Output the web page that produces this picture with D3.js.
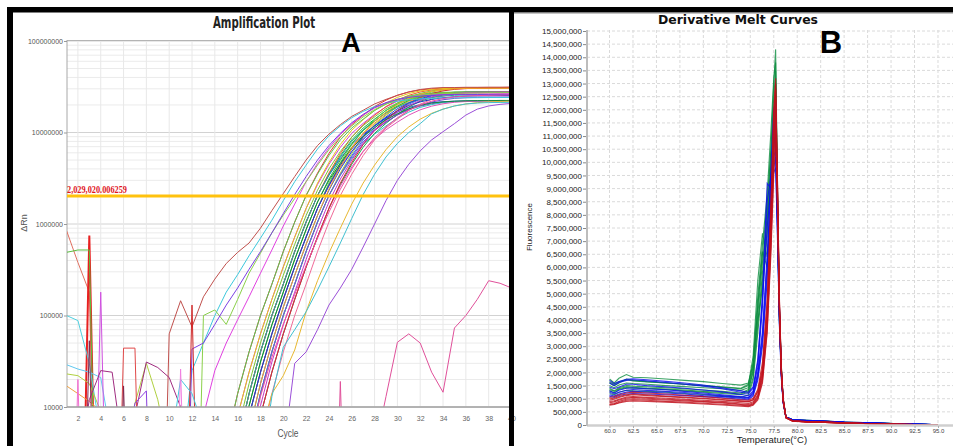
<!DOCTYPE html>
<html>
<head>
<meta charset="utf-8">
<script src="https://cdn.jsdelivr.net/npm/d3@7"></script>
<style>
body { margin: 0; background: #fff; }
svg { display: block; font-family: "Liberation Sans", Arial, sans-serif; }
</style>
</head>
<body>
<svg id="chart" width="953" height="446"></svg>
<script>
// ---------- data: amplification plot (panel A) ----------
const cycles = [1,2,3,4,5,6,7,8,9,10,11,12,13,14,15,16,17,18,19,20,
                21,22,23,24,25,26,27,28,29,30,31,32,33,34,35,36,37,38,39,40];
const threshold = 2029020.006259;
const decadeTicks = [1e4, 1e5, 1e6, 1e7, 1e8];

// one row per well, delta Rn per cycle (values under 10000 sit below the axis)
const ampValues = [
  // main bundle
  [2e3,2e3,2e3,2e3,2e3, 2e3,2e3,2e3,2e3,2e3, 2e3,2e3,2e3,2e3, 4e3,1.4e4,4e4,1e5,2.2e5,5e5,1.05e6,2.05e6,3.6e6,5.9e6,8.9e6,1.22e7,1.54e7,1.92e7,2.26e7,2.55e7,2.77e7,2.92e7,3.0e7,3.05e7, 3.07e7,3.08e7,3.09e7,3.1e7,3.1e7,3.11e7],
  [2e3,2e3,2e3,2e3,2e3, 2e3,2e3,2e3,2e3,2e3, 2e3,2e3,2e3,2e3, 2e3,8e3,2.4e4,6.3e4,1.5e5,3.4e5,7.2e5,1.48e6,2.7e6,4.5e6,6.9e6,9.8e6,1.26e7,1.58e7,1.9e7,2.2e7,2.4e7,2.57e7,2.66e7,2.72e7,2.75e7, 2.76e7,2.77e7,2.78e7,2.79e7,2.8e7],
  [2e3,2e3,2e3,2e3,2e3, 2e3,2e3,2e3,2e3,2e3, 2e3,2e3,2e3,2e3,2e3, 4e3,1.4e4,4e4,1e5,2.2e5,5e5,1.05e6,2.05e6,3.5e6,5.6e6,8.3e6,1.12e7,1.4e7,1.74e7,2.04e7,2.3e7,2.5e7,2.63e7,2.7e7,2.75e7, 2.76e7,2.77e7,2.78e7,2.79e7,2.8e7],
  [2e3,2e3,2e3,2e3,2e3, 2e3,2e3,2e3,2e3,2e3, 2e3,2e3,2e3,2e3,2e3, 4e3,1.4e4,4e4,1e5,2.2e5,5e5,1.05e6,2.05e6,3.4e6,5.2e6,7.4e6,9.6e6,1.18e7,1.43e7,1.67e7,1.88e7,2.02e7,2.12e7,2.17e7,2.2e7, 2.21e7,2.22e7,2.22e7,2.23e7,2.23e7],
  [2e3,2e3,2e3,2e3,2e3, 2e3,2e3,2e3,2e3,2e3, 2e3,2e3,2e3,2e3,2e3, 2e3,8e3,2.4e4,6.3e4,1.5e5,3.4e5,7.2e5,1.48e6,2.7e6,4.5e6,6.9e6,9.8e6,1.26e7,1.58e7,1.9e7,2.2e7,2.4e7,2.57e7,2.66e7,2.72e7,2.75e7, 2.76e7,2.77e7,2.78e7,2.79e7],
  [2e3,2e3,2e3,2e3,2e3, 2e3,2e3,2e3,2e3,2e3, 2e3,2e3,2e3,2e3,2e3, 2e3,8e3,2.4e4,6.3e4,1.5e5,3.4e5,7.2e5,1.48e6,2.8e6,4.7e6,7.4e6,1.06e7,1.38e7,1.74e7,2.1e7,2.42e7,2.67e7,2.85e7,2.96e7,3.02e7,3.05e7, 3.06e7,3.07e7,3.07e7,3.08e7],
  [2e3,2e3,2e3,2e3,2e3, 2e3,2e3,2e3,2e3,2e3, 2e3,2e3,2e3,2e3,2e3, 2e3,8e3,2.4e4,6.3e4,1.5e5,3.4e5,7.2e5,1.48e6,2.6e6,4.2e6,6.2e6,8.5e6,1.07e7,1.3e7,1.55e7,1.77e7,1.94e7,2.06e7,2.14e7,2.18e7,2.2e7, 2.21e7,2.22e7,2.22e7,2.23e7],
  [2e3,2e3,2e3,2e3,2e3, 2e3,2e3,2e3,2e3,2e3, 2e3,2e3,2e3,2e3,2e3, 2e3, 4e3,1.4e4,4e4,1e5,2.2e5,5e5,1.05e6,2.05e6,3.5e6,5.6e6,8.3e6,1.12e7,1.4e7,1.74e7,2.04e7,2.3e7,2.5e7,2.63e7,2.7e7,2.75e7, 2.76e7,2.77e7,2.78e7,2.79e7],
  [2e3,2e3,2e3,2e3,2e3, 2e3,2e3,2e3,2e3,2e3, 2e3,2e3,2e3,2e3,2e3, 2e3, 4e3,1.4e4,4e4,1e5,2.2e5,5e5,1.05e6,2.05e6,3.6e6,5.9e6,8.9e6,1.22e7,1.54e7,1.92e7,2.26e7,2.55e7,2.77e7,2.92e7,3.0e7,3.05e7, 3.07e7,3.08e7,3.09e7,3.1e7],
  [2e3,2e3,2e3,2e3,2e3, 2e3,2e3,2e3,2e3,2e3, 2e3,2e3,2e3,2e3,2e3, 2e3, 4e3,1.4e4,4e4,1e5,2.2e5,5e5,1.05e6,2.05e6,3.4e6,5.2e6,7.4e6,9.6e6,1.18e7,1.43e7,1.67e7,1.88e7,2.02e7,2.12e7,2.17e7,2.2e7, 2.21e7,2.22e7,2.22e7,2.23e7],
  [2e3,2e3,2e3,2e3,2e3, 2e3,2e3,2e3,2e3,2e3, 2e3,2e3,2e3,2e3,2e3, 2e3, 2e3,8e3,2.4e4,6.3e4,1.5e5,3.4e5,7.2e5,1.48e6,2.7e6,4.5e6,6.9e6,9.8e6,1.26e7,1.58e7,1.9e7,2.2e7,2.4e7,2.57e7,2.66e7,2.72e7,2.75e7, 2.76e7,2.77e7,2.78e7],
  [2e3,2e3,2e3,2e3,2e3, 2e3,2e3,2e3,2e3,2e3, 2e3,2e3,2e3,2e3,2e3, 2e3, 2e3,8e3,2.4e4,6.3e4,1.5e5,3.4e5,7.2e5,1.48e6,2.6e6,4.2e6,6.2e6,8.5e6,1.07e7,1.3e7,1.55e7,1.77e7,1.94e7,2.06e7,2.14e7,2.18e7,2.2e7, 2.21e7,2.22e7,2.22e7],
  [2e3,2e3,2e3,2e3,2e3, 2e3,2e3,2e3,2e3,2e3, 2e3,2e3,2e3,2e3,2e3, 4e3,1.4e4,4e4,1e5,2.2e5,5e5,1.05e6,2.05e6,3.6e6,5.9e6,8.9e6,1.22e7,1.54e7,1.92e7,2.26e7,2.55e7,2.77e7,2.92e7,3.0e7,3.05e7, 3.07e7,3.08e7,3.09e7,3.1e7,3.1e7],
  [2e3,2e3,2e3,2e3,2e3, 2e3,2e3,2e3,2e3,2e3, 2e3,2e3,2e3,2e3, 2e3,8e3,2.4e4,6.3e4,1.5e5,3.4e5,7.2e5,1.48e6,2.8e6,4.7e6,7.4e6,1.06e7,1.38e7,1.74e7,2.1e7,2.42e7,2.67e7,2.85e7,2.96e7,3.02e7,3.05e7, 3.06e7,3.07e7,3.07e7,3.08e7,3.08e7],
  [2e3,2e3,2e3,2e3,2e3, 2e3,2e3,2e3,2e3,2e3, 2e3,2e3,2e3,2e3,2e3, 2e3, 4e3,1.4e4,4e4,1e5,2.2e5,5e5,1.05e6,2.05e6,3.45e6,5.4e6,7.9e6,1.05e7,1.3e7,1.56e7,1.8e7,2.0e7,2.15e7,2.28e7,2.36e7,2.4e7, 2.42e7,2.43e7,2.44e7,2.45e7],
  [2e3,2e3,2e3,2e3,2e3, 2e3,2e3,2e3,2e3,2e3, 2e3,2e3,2e3,2e3,2e3, 2e3,2e3, 4e3,1.4e4,4e4,1e5,2.2e5,5e5,1.05e6,2.05e6,3.5e6,5.6e6,8.3e6,1.12e7,1.4e7,1.74e7,2.04e7,2.3e7,2.5e7,2.63e7,2.7e7,2.75e7, 2.76e7,2.77e7,2.78e7],
  [2e3,2e3,2e3,2e3,2e3, 2e3,2e3,2e3,2e3,2e3, 2e3,2e3,2e3,2e3,2e3, 2e3,8e3,2.4e4,6.3e4,1.5e5,3.4e5,7.2e5,1.48e6,2.65e6,4.4e6,6.6e6,9.3e6,1.18e7,1.45e7,1.72e7,1.98e7,2.16e7,2.3e7,2.4e7,2.46e7,2.5e7, 2.51e7,2.52e7,2.53e7,2.54e7],
  [2e3,2e3,2e3,2e3,2e3, 2e3,2e3,2e3,2e3,2e3, 2e3,2e3,2e3,2e3, 4e3,1.4e4,4e4,1e5,2.2e5,5e5,1.05e6,2.05e6,3.5e6,5.6e6,8.3e6,1.12e7,1.4e7,1.74e7,2.04e7,2.3e7,2.5e7,2.63e7,2.7e7,2.75e7, 2.76e7,2.77e7,2.78e7,2.79e7,2.8e7,2.8e7],
  [2e3,2e3,2e3,2e3,2e3, 2e3,2e3,2e3,2e3,2e3, 2e3,2e3,2e3,2e3,2e3, 2e3, 2e3,8e3,2.4e4,6.3e4,1.5e5,3.4e5,7.2e5,1.48e6,2.8e6,4.7e6,7.4e6,1.06e7,1.38e7,1.74e7,2.1e7,2.42e7,2.67e7,2.85e7,2.96e7,3.02e7,3.05e7, 3.06e7,3.07e7,3.07e7],
  [2e3,2e3,2e3,2e3,2e3, 2e3,2e3,2e3,2e3,2e3, 2e3,2e3,2e3,2e3,2e3, 4e3,1.4e4,4e4,1e5,2.2e5,5e5,1.05e6,2.05e6,3.45e6,5.4e6,8e6,1.07e7,1.33e7,1.63e7,1.9e7,2.13e7,2.3e7,2.42e7,2.5e7,2.55e7, 2.57e7,2.58e7,2.59e7,2.6e7,2.6e7],
  [2e3,2e3,2e3,2e3,2e3, 2e3,2e3,2e3,2e3,2e3, 2e3,2e3,2e3,2e3,2e3, 3.4e3,1.03e4,3.1e4,7.9e4,1.8e5,4.1e5,8.7e5,1.74e6,3.1e6,5e6,7.6e6,1.05e7,1.33e7,1.66e7,1.95e7,2.24e7,2.45e7,2.6e7,2.65e7,2.74e7,2.75e7, 2.76e7,2.77e7,2.78e7,2.79e7],
  [2e3,2e3,2e3,2e3,2e3, 2e3,2e3,2e3,2e3,2e3, 2e3,2e3,2e3,2e3,2e3, 2.4e3,5.5e3,1.8e4,5e4,1.23e5,2.75e5,6e5,1.24e6,2.34e6,4e6,6.2e6,8.9e6,1.19e7,1.48e7,1.82e7,2.1e7,2.34e7,2.54e7,2.65e7,2.71e7,2.75e7, 2.76e7,2.77e7,2.78e7,2.78e7],
  [2e3,2e3,2e3,2e3,2e3, 2e3,2e3,2e3,2e3,2e3, 2e3,2e3,2e3,2e3, 2.4e3,5.5e3,1.8e4,5e4,1.23e5,2.75e5,6e5,1.24e6,2.34e6,4e6,6.2e6,8.9e6,1.19e7,1.48e7,1.82e7,2.1e7,2.34e7,2.54e7,2.65e7,2.71e7,2.75e7, 2.76e7,2.77e7,2.78e7,2.79e7,2.8e7],
  [2e3,2e3,2e3,2e3,2e3, 2e3,2e3,2e3,2e3,2e3, 2e3,2e3,2e3,2e3,2e3, 2e3, 3.4e3,1.03e4,3.1e4,7.9e4,1.8e5,4.1e5,8.7e5,1.74e6,3.1e6,5e6,7.6e6,1.05e7,1.33e7,1.66e7,1.95e7,2.24e7,2.45e7,2.6e7,2.65e7,2.74e7,2.75e7, 2.76e7,2.77e7,2.78e7],
  [2e3,2e3,2e3,2e3,2e3, 2e3,2e3,2e3,2e3,2e3, 2e3,2e3,2e3,2e3,2e3, 3.4e3,1.03e4,3.1e4,7.9e4,1.8e5,4.1e5,8.7e5,1.74e6,3.0e6,4.6e6,6.8e6,9.0e6,1.13e7,1.38e7,1.6e7,1.82e7,1.98e7,2.1e7,2.16e7,2.2e7,2.22e7, 2.23e7,2.23e7,2.24e7,2.24e7],
  [2e3,2e3,2e3,2e3,2e3, 2e3,2e3,2e3,2e3,2e3, 2e3,2e3,2e3,2e3,2e3, 2.4e3,5.5e3,1.8e4,5e4,1.23e5,2.75e5,6e5,1.24e6,2.4e6,4.2e6,6.7e6,9.8e6,1.32e7,1.66e7,2.02e7,2.36e7,2.62e7,2.82e7,2.94e7,3.0e7,3.03e7, 3.04e7,3.05e7,3.05e7,3.06e7],
  // early and late wells
  [2e3,2e3,2e3,2e3,2e3, 2e3,2e3,2e3, 1, 6.3e4,1.45e5,7.5e4,1.6e5,2.5e5,3.7e5,4.9e5,6.2e5,9e5,1.4e6,2.15e6,3.3e6,5e6,7.2e6,9.6e6,1.22e7,1.5e7,1.75e7,2.05e7,2.3e7,2.55e7,2.78e7,2.95e7,3.05e7, 3.1e7,3.1e7,3.12e7,3.12e7,3.13e7,3.13e7,3.14e7],
  [2e3,2e3,2e3,2e3,2e3, 2e3,2e3,2e3,2e3,2e3, 2e3, 2.5e4,5e4,1e5,1.8e5,2.8e5,4.5e5,7e5,1.1e6,1.8e6,2.9e6,4.4e6,6.6e6,9.2e6,1.18e7,1.45e7,1.7e7,1.92e7,2.08e7,2.2e7,2.28e7,2.33e7, 2.36e7,2.38e7,2.39e7,2.4e7,2.4e7,2.41e7,2.41e7,2.42e7],
  [2e3,2e3,2e3,2e3,2e3, 2e3,2e3,2e3,2e3,2e3, 2e3,2e3, 8e3,2.5e4,5e4,9e4,1.6e5,2.9e5,5.2e5,9.5e5,1.65e6,2.9e6,4.6e6,6.8e6,9.5e6,1.25e7,1.55e7,1.85e7,2.1e7,2.3e7,2.45e7,2.55e7,2.6e7, 2.62e7,2.63e7,2.64e7,2.65e7,2.65e7,2.66e7,2.66e7],
  [2e3,2e3,2e3,2e3,2e3, 2e3,2e3,2e3,2e3,2e3, 2e3, 1, 1e5,1.15e5,8e4,1.5e5,2.9e5,4.8e5,8e5,1.25e6,1.9e6,2.9e6,4.4e6,6.5e6,9e6,1.18e7,1.48e7,1.78e7,2.05e7,2.28e7,2.45e7,2.55e7,2.62e7, 2.66e7,2.68e7,2.7e7,2.7e7,2.72e7,2.72e7,2.73e7],
  [2e3,2e3,2e3,2e3,2e3, 2e3,2e3,2e3,2e3,2e3, 1, 4.3e4,5e4,8e4,1.3e5,2e5,3.2e5,5e5,8e5,1.3e6,2.1e6,3.3e6,5e6,7.2e6,9.8e6,1.28e7,1.58e7,1.88e7,2.12e7,2.3e7,2.42e7,2.5e7,2.55e7,2.58e7, 2.6e7,2.6e7,2.6e7,2.6e7,2.6e7,2.6e7],
  [2e3,2e3,2e3,2e3,2e3, 2e3,2e3,2e3,2e3,2e3, 2e3,2e3,2e3,2e3,2e3, 2e3,2e3, 5e3,1.4e4,2.2e4,4.2e4,1.1e5,2.4e5,4.8e5,9e5,1.65e6,2.8e6,4.4e6,6.5e6,9e6,1.15e7,1.4e7,1.62e7,1.8e7,1.95e7,2.05e7,2.12e7,2.16e7,2.18e7,2.2e7],
  [2e3,2e3,2e3,2e3,2e3, 2e3,2e3,2e3,2e3,2e3, 2e3,2e3,2e3,2e3,2e3, 2e3,2e3,2e3, 1.3e4,4.5e4,7e4,1.1e5,1.9e5,3.4e5,6.2e5,1.15e6,2.1e6,3.5e6,5.4e6,7.6e6,1.0e7,1.25e7,1.6e7,1.8e7,1.95e7,2.05e7,2.1e7,2.12e7,2.13e7,2.14e7],
  [2e3,2e3,2e3,2e3,2e3, 2e3,2e3,2e3,2e3,2e3, 2e3,2e3,2e3,2e3,2e3, 2e3, 4e3,1.3e4,3.5e4,8e4,1.7e5,3.5e5,7e5,1.35e6,2.4e6,4e6,6.2e6,8.8e6,1.15e7,1.45e7,1.75e7,2.0e7,2.2e7,2.35e7,2.45e7,2.5e7,2.53e7,2.55e7,2.56e7,2.57e7],
  [2e3,2e3,2e3,2e3,2e3, 2e3,2e3,2e3,2e3,2e3, 2e3,2e3,2e3,2e3,2e3, 2e3,2e3,2e3,2e3, 3e3,3e4,4e4,7e4,1.3e5,2e5,3.2e5,5.6e5,1e6,1.8e6,3e6,4.5e6,6.3e6,8.3e6,1.02e7,1.25e7,1.55e7,1.8e7,1.95e7,2.03e7,2.08e7],
  [2e3,2e3,2e3,2e3,2e3, 2e3,2e3,2e3,2e3,2e3, 2e3,2e3,2e3,2e3,2e3, 2e3,2e3,2e3,2e3,2e3, 2e3,2e3,2e3, 1,1.9e4,1,1,3.3e3,1.3e4,5.1e4,6.3e4,5e4,2.4e4,1.45e4,7.3e4,1e5,1.5e5,2.4e5,2.25e5,2e5],
  // noisy wells at the start
  [8.5e5,3.8e5,1.8e5,1,2e3],
  [2e3,1,7.5e5,1,2e3],
  [4.9e5,5.2e5,5.2e5,1,2e3],
  [1e5,8.8e4,3e4,5e3,2e3],
  [2.9e4,2.6e4,2.4e4,2.1e4,4e3,2e3],
  [2.3e4,2.2e4,1.8e4,9e3,3e3,3e3,1.1e4,3e4,1.2e4,3e3],
  [1.7e4,1.4e4,1.15e4,9e3,3e3,2e3],
  [1,2e4,1,2e3],
  [2e3,2e3,1,1.8e5,1,2e3],
  [2e3,2e3,1.2e4,2.5e4,2.4e4,3e3,8e3,3.1e4,2.7e4,2.1e4,1e4,3e3],
  [2e3,2e3,2e3,2e3,1,4.4e4,4.4e4,1,2e3],
  [2e3,2e3,2e3,2e3,2e3,2e3,1.1e4,1.5e4,1,2e3],
  [2e3,1,5.3e4,1,1,1.7e4,1,2e3],
  [2e3,2e3,2e3,2e3,2e3,2e3,2e3,2e3,2e3,2e3,1,1.3e5,1,2e3],
  [2e3,2e3,2e3,2e3,2e3,2e3,2e3,2e3,2e3,3e3,2e4,1.4e4,6e3,2e3],
  [2e3,2e3,2e3,2e3,2e3,2e3,2e3,2e3,2e3,1,2.6e4,1,2e3]
];
const ampColors = [
  "#e3342f","#d23fd2","#22b14c","#2f50e0","#f28c28","#4cd04c","#8a3fd8","#3b6cf2","#9fd236","#2cc6c6",
  "#17a34a","#e052b8","#f25a26","#e6c619","#7548d6","#f06a98","#1c36c4","#58c858","#d42a2a","#27a89e",
  "#33bb33","#2846d8","#7cc43a","#c535c5","#128a3a","#f5a623",
  "#c0504d","#3cc8dc","#e040e0","#8ad04a","#7b3fe4","#e8b830","#40c0d0","#f050a0","#9b4fd8","#e0509a",
  "#e07060","#e82020","#5cc040","#50d0e0","#60c8f0","#b0d040","#f0a040","#f070d0","#d050e0","#a02c80",
  "#e04848","#8c40e0","#802850","#d02828","#40c8e0","#f080e0"
];

// ---------- data: derivative melt curves (panel B) ----------
const tempsC = [60,60.5,61,61.8,62.5,64,66,68,70,72,74,74.8,75.3,75.8,76.3,76.8,77.2,77.5,77.7,77.9,78.1,78.3,78.5,78.8,79.5,81,83,85,88,91,94,95];
const meltGreen = [
  [1.75e6,1.6e6,1.78e6,1.92e6,1.82e6,1.8e6,1.75e6,1.7e6,1.65e6,1.58e6,1.52e6,1.6e6,2.3e6,4.5e6,6.5e6,8.5e6,10.5e6,13e6,14.3e6,9e6,4.6e6,2.3e6,1.0e6,0.3e6,0.2e6,0.18e6,0.15e6,0.1e6,0.08e6,0.05e6,0.02e6,0],
  [1.6e6,1.5e6,1.6e6,1.75e6,1.7e6,1.65e6,1.6e6,1.55e6,1.5e6,1.45e6,1.4e6,1.55e6,2.6e6,5.5e6,7.3e6,6.4e6,8.0e6,10.5e6,11.5e6,7.6e6,4.0e6,2.0e6,0.9e6,0.3e6,0.2e6,0.17e6,0.14e6,0.1e6,0.07e6,0.05e6,0.02e6,0],
  [1.4e6,1.3e6,1.42e6,1.5e6,1.48e6,1.45e6,1.42e6,1.38e6,1.33e6,1.28e6,1.22e6,1.35e6,2.0e6,4.6e6,6.6e6,6.0e6,8.5e6,11.5e6,12.2e6,8.0e6,4.2e6,2.1e6,0.95e6,0.3e6,0.19e6,0.16e6,0.13e6,0.1e6,0.07e6,0.04e6,0.02e6,0],
  [1.3e6,1.22e6,1.35e6,1.42e6,1.4e6,1.38e6,1.35e6,1.3e6,1.25e6,1.2e6,1.15e6,1.25e6,1.8e6,3.8e6,5.8e6,8.0e6,10.5e6,12.5e6,13.5e6,8.6e6,4.4e6,2.2e6,0.95e6,0.28e6,0.18e6,0.16e6,0.13e6,0.09e6,0.07e6,0.04e6,0.02e6,0],
  [1.5e6,1.42e6,1.52e6,1.6e6,1.58e6,1.55e6,1.5e6,1.46e6,1.42e6,1.38e6,1.32e6,1.42e6,2.2e6,4.2e6,6.2e6,7.8e6,9.8e6,11.8e6,12.8e6,8.2e6,4.2e6,2.1e6,0.95e6,0.3e6,0.2e6,0.17e6,0.14e6,0.1e6,0.07e6,0.05e6,0.02e6,0],
  [1.2e6,1.15e6,1.25e6,1.32e6,1.3e6,1.28e6,1.25e6,1.2e6,1.16e6,1.1e6,1.05e6,1.15e6,1.7e6,3.5e6,5.5e6,7.2e6,9.5e6,11.2e6,12.0e6,7.8e6,4.0e6,2.0e6,0.9e6,0.28e6,0.18e6,0.15e6,0.12e6,0.09e6,0.06e6,0.04e6,0.02e6,0],
  [1.65e6,1.55e6,1.65e6,1.72e6,1.68e6,1.64e6,1.6e6,1.55e6,1.5e6,1.44e6,1.38e6,1.5e6,2.4e6,4.9e6,6.9e6,8.8e6,11.2e6,13.2e6,13.8e6,8.8e6,4.5e6,2.2e6,1.0e6,0.3e6,0.2e6,0.18e6,0.15e6,0.11e6,0.08e6,0.05e6,0.03e6,0],
  [1.35e6,1.28e6,1.38e6,1.45e6,1.44e6,1.4e6,1.37e6,1.33e6,1.28e6,1.24e6,1.18e6,1.3e6,2.1e6,4.0e6,5.2e6,7.5e6,10.0e6,12.0e6,13.0e6,8.3e6,4.3e6,2.1e6,0.95e6,0.3e6,0.19e6,0.16e6,0.13e6,0.1e6,0.07e6,0.04e6,0.02e6,0]
];
const meltBlue = [
  [1.6e6,1.5e6,1.62e6,1.7e6,1.72e6,1.68e6,1.62e6,1.55e6,1.48e6,1.38e6,1.25e6,1.2e6,1.4e6,2.2e6,4.5e6,8.5e6,9.5e6,10.2e6,10.5e6,7.6e6,4.2e6,2.0e6,0.9e6,0.3e6,0.2e6,0.17e6,0.14e6,0.1e6,0.07e6,0.05e6,0.02e6,0],
  [1.3e6,1.22e6,1.32e6,1.4e6,1.42e6,1.38e6,1.34e6,1.28e6,1.22e6,1.15e6,1.08e6,1.05e6,1.25e6,2.0e6,3.6e6,6.5e6,9.0e6,11.0e6,11.8e6,8.5e6,4.5e6,2.1e6,0.95e6,0.3e6,0.2e6,0.17e6,0.14e6,0.1e6,0.07e6,0.05e6,0.02e6,0],
  [1.15e6,1.1e6,1.18e6,1.25e6,1.28e6,1.25e6,1.22e6,1.18e6,1.12e6,1.08e6,1.02e6,1.0e6,1.15e6,1.8e6,3.2e6,5.8e6,8.2e6,9.8e6,10.2e6,7.3e6,3.9e6,1.9e6,0.85e6,0.28e6,0.18e6,0.15e6,0.13e6,0.09e6,0.06e6,0.04e6,0.02e6,0],
  [1.45e6,1.38e6,1.45e6,1.55e6,1.55e6,1.5e6,1.45e6,1.4e6,1.33e6,1.26e6,1.16e6,1.12e6,1.3e6,2.4e6,5.0e6,9.2e6,9.0e6,9.6e6,9.8e6,7.0e6,3.8e6,1.8e6,0.85e6,0.28e6,0.19e6,0.16e6,0.13e6,0.1e6,0.07e6,0.04e6,0.02e6,0],
  [1.25e6,1.18e6,1.25e6,1.32e6,1.35e6,1.32e6,1.28e6,1.24e6,1.18e6,1.12e6,1.06e6,1.04e6,1.2e6,1.9e6,3.4e6,6.2e6,9.8e6,12.0e6,12.3e6,8.8e6,4.6e6,2.2e6,1.0e6,0.3e6,0.2e6,0.17e6,0.14e6,0.1e6,0.07e6,0.05e6,0.03e6,0],
  [1.7e6,1.58e6,1.66e6,1.74e6,1.76e6,1.72e6,1.66e6,1.6e6,1.52e6,1.42e6,1.3e6,1.25e6,1.45e6,2.5e6,4.8e6,7.5e6,9.2e6,10.8e6,11.0e6,7.9e6,4.3e6,2.0e6,0.9e6,0.3e6,0.2e6,0.18e6,0.15e6,0.11e6,0.08e6,0.05e6,0.03e6,0],
  [1.1e6,1.05e6,1.12e6,1.18e6,1.2e6,1.18e6,1.15e6,1.12e6,1.08e6,1.04e6,0.98e6,0.96e6,1.1e6,1.7e6,3.0e6,5.5e6,8.8e6,10.5e6,11.2e6,8.1e6,4.3e6,2.0e6,0.9e6,0.3e6,0.19e6,0.16e6,0.13e6,0.1e6,0.07e6,0.04e6,0.02e6,0]
];
const meltRed = [
  [0.8e6,0.82e6,0.9e6,0.98e6,1.0e6,0.98e6,0.95e6,0.92e6,0.88e6,0.84e6,0.78e6,0.75e6,0.8e6,1.05e6,1.8e6,3.8e6,7.0e6,10.5e6,12.0e6,8.6e6,4.5e6,2.1e6,0.95e6,0.28e6,0.15e6,0.12e6,0.1e6,0.08e6,0.05e6,0.03e6,0.01e6,0],
  [0.95e6,0.98e6,1.05e6,1.12e6,1.15e6,1.12e6,1.08e6,1.04e6,1.0e6,0.95e6,0.9e6,0.88e6,0.95e6,1.25e6,2.1e6,4.4e6,8.0e6,11.5e6,13.0e6,9.2e6,4.8e6,2.2e6,1.0e6,0.3e6,0.16e6,0.13e6,0.11e6,0.08e6,0.05e6,0.03e6,0.01e6,0],
  [0.75e6,0.78e6,0.84e6,0.9e6,0.92e6,0.9e6,0.87e6,0.84e6,0.8e6,0.76e6,0.72e6,0.7e6,0.75e6,0.95e6,1.6e6,3.5e6,6.5e6,9.5e6,11.0e6,7.9e6,4.2e6,2.0e6,0.9e6,0.26e6,0.14e6,0.12e6,0.1e6,0.07e6,0.05e6,0.03e6,0.01e6,0],
  [1.05e6,1.08e6,1.15e6,1.22e6,1.25e6,1.22e6,1.18e6,1.13e6,1.08e6,1.02e6,0.96e6,0.94e6,1.02e6,1.35e6,2.4e6,4.8e6,8.5e6,11.8e6,12.8e6,9.0e6,4.7e6,2.2e6,1.0e6,0.3e6,0.16e6,0.13e6,0.11e6,0.08e6,0.05e6,0.03e6,0.01e6,0],
  [0.85e6,0.88e6,0.95e6,1.02e6,1.05e6,1.02e6,0.98e6,0.95e6,0.9e6,0.86e6,0.8e6,0.78e6,0.84e6,1.1e6,1.9e6,4.0e6,7.5e6,11.0e6,12.4e6,8.8e6,4.6e6,2.1e6,0.95e6,0.28e6,0.15e6,0.12e6,0.1e6,0.08e6,0.05e6,0.03e6,0.01e6,0],
  [0.9e6,0.92e6,0.98e6,1.06e6,1.08e6,1.05e6,1.02e6,0.98e6,0.94e6,0.9e6,0.85e6,0.82e6,0.88e6,1.15e6,2.0e6,4.2e6,7.8e6,10.8e6,11.5e6,8.2e6,4.3e6,2.0e6,0.9e6,0.28e6,0.15e6,0.12e6,0.1e6,0.08e6,0.05e6,0.03e6,0.01e6,0],
  [1.0e6,1.02e6,1.08e6,1.15e6,1.18e6,1.15e6,1.1e6,1.06e6,1.02e6,0.97e6,0.92e6,0.9e6,0.97e6,1.28e6,2.2e6,4.6e6,8.2e6,12.0e6,13.2e6,9.3e6,4.9e6,2.3e6,1.05e6,0.3e6,0.16e6,0.13e6,0.11e6,0.08e6,0.05e6,0.03e6,0.01e6,0],
  [0.78e6,0.8e6,0.86e6,0.94e6,0.96e6,0.94e6,0.9e6,0.87e6,0.83e6,0.79e6,0.75e6,0.73e6,0.78e6,1.0e6,1.7e6,3.6e6,6.8e6,9.8e6,11.8e6,8.4e6,4.4e6,2.0e6,0.9e6,0.27e6,0.14e6,0.12e6,0.1e6,0.07e6,0.05e6,0.03e6,0.01e6,0]
];
const meltColors = { green: "#0b8c3e", blue: "#0a0aee", red: "#c0101c" };
const meltTicksX = [60,62.5,65,67.5,70,72.5,75,77.5,80,82.5,85,87.5,90,92.5,95];
const meltTicksY = [0,5e5,1e6,1.5e6,2e6,2.5e6,3e6,3.5e6,4e6,4.5e6,5e6,5.5e6,6e6,6.5e6,7e6,7.5e6,
                    8e6,8.5e6,9e6,9.5e6,1e7,1.05e7,1.1e7,1.15e7,1.2e7,1.25e7,1.3e7,1.35e7,1.4e7,1.45e7,1.5e7];

// ---------- drawing ----------
const svg = d3.select("#chart");
const defs = svg.append("defs");
defs.append("clipPath").attr("id", "clipA")
  .append("rect").attr("x", 67).attr("y", 40).attr("width", 442).attr("height", 367);
defs.append("clipPath").attr("id", "clipB")
  .append("rect").attr("x", 588).attr("y", 20).attr("width", 365).attr("height", 405);

// panel A
const xA = d3.scaleLinear().domain([1, 40]).range([66.5, 511.5]);
const yA = d3.scaleLog().domain([1e4, 1e8]).range([407, 41]);
const gA = svg.append("g");

gA.append("g").selectAll("line")
  .data(yA.ticks())
  .join("line")
  .attr("x1", 67).attr("x2", 509)
  .attr("y1", d => yA(d)).attr("y2", d => yA(d))
  .attr("stroke", d => String(d)[0] === "1" ? "#d2d2d2" : "#ebebeb")
  .attr("stroke-width", 1);
gA.append("g").selectAll("line")
  .data(cycles.filter(c => c % 2 === 0))
  .join("line")
  .attr("x1", d => xA(d)).attr("x2", d => xA(d))
  .attr("y1", 40).attr("y2", 407)
  .attr("stroke", "#e8e8e8");

gA.append("line").attr("x1", 67).attr("x2", 509).attr("y1", 40.5).attr("y2", 40.5).attr("stroke", "#b4b4b4");
gA.append("line").attr("x1", 67).attr("x2", 67).attr("y1", 40).attr("y2", 407).attr("stroke", "#a8a8a8");

const lineA = d3.line()
  .x((d, i) => xA(cycles[i]))
  .y(d => yA(d));
gA.append("g").attr("clip-path", "url(#clipA)")
  .selectAll("path")
  .data(ampValues)
  .join("path")
  .attr("d", lineA)
  .attr("fill", "none")
  .attr("stroke", (d, i) => ampColors[i])
  .attr("stroke-width", (d, i) => ampColors[i] === "#e82020" ? 2 : 1);

gA.append("line").attr("x1", 67).attr("x2", 509).attr("y1", 407).attr("y2", 407)
  .attr("stroke", "#a0a0a0").attr("stroke-width", 1.5);

const axA = gA.append("g").attr("transform", "translate(67,0)")
  .call(d3.axisLeft(yA).tickValues(decadeTicks).tickFormat(d3.format("d")).tickSize(3).tickPadding(1));
axA.select(".domain").remove();
axA.selectAll("line").attr("stroke", "#999");
axA.selectAll("text").attr("font-size", 7).attr("fill", "#555");

const axAx = gA.append("g").attr("transform", "translate(0,407)")
  .call(d3.axisBottom(xA).tickValues(cycles.filter(c => c % 2 === 0)).tickSize(0).tickPadding(9));
axAx.select(".domain").remove();
axAx.selectAll("text").attr("font-size", 7).attr("fill", "#666");

// threshold
gA.append("line")
  .attr("x1", 67).attr("x2", 509)
  .attr("y1", yA(threshold)).attr("y2", yA(threshold))
  .attr("stroke", "#ffc20e").attr("stroke-width", 3);
gA.append("text")
  .attr("x", 67).attr("y", yA(threshold) - 3)
  .attr("font-family", "Liberation Serif, Times New Roman, serif")
  .attr("font-size", 10).attr("font-weight", "bold")
  .attr("fill", "#e0161e")
  .attr("textLength", 60).attr("lengthAdjust", "spacingAndGlyphs")
  .text(d3.format(",.6f")(threshold));

gA.append("text").attr("x", 264).attr("y", 28).attr("text-anchor", "middle")
  .attr("font-family", "Liberation Sans Narrow, DejaVu Sans Condensed, Arial, sans-serif")
  .attr("font-size", 15).attr("font-weight", "bold").attr("fill", "#222")
  .attr("textLength", 102).attr("lengthAdjust", "spacingAndGlyphs")
  .text("Amplification Plot");
gA.append("text").attr("x", 288).attr("y", 437).attr("text-anchor", "middle")
  .attr("font-size", 10).attr("fill", "#555")
  .attr("textLength", 21).attr("lengthAdjust", "spacingAndGlyphs")
  .text("Cycle");
gA.append("text").attr("transform", "translate(27,223) rotate(-90)").attr("text-anchor", "middle")
  .attr("font-size", 9).attr("fill", "#555").text("ΔRn");
gA.append("text").attr("x", 351).attr("y", 52).attr("text-anchor", "middle")
  .attr("font-family", "Liberation Sans, Arial, sans-serif")
  .attr("font-size", 27).attr("font-weight", "bold").attr("fill", "#000").text("A");

// panel B
const xB = d3.scaleLinear().domain([57.6, 96.6]).range([587, 953]);
const yB = d3.scaleLinear().domain([0, 15e6]).range([425, 31]);
const gB = svg.append("g");

gB.append("line").attr("x1", 514).attr("x2", 953).attr("y1", 13.5).attr("y2", 13.5).attr("stroke", "#c4c4c4");

gB.append("g").selectAll("line")
  .data(meltTicksY.slice(1))
  .join("line")
  .attr("x1", 587).attr("x2", 953)
  .attr("y1", d => yB(d)).attr("y2", d => yB(d))
  .attr("stroke", "#dadada").attr("stroke-dasharray", "3,2");
gB.append("g").selectAll("line")
  .data(meltTicksX)
  .join("line")
  .attr("x1", d => xB(d)).attr("x2", d => xB(d))
  .attr("y1", 30).attr("y2", 425)
  .attr("stroke", "#dadada").attr("stroke-dasharray", "3,2");

const lineB = d3.line()
  .x((d, i) => xB(tempsC[i]))
  .y(d => yB(d));
const meltSets = [
  { rows: meltGreen, color: meltColors.green },
  { rows: meltBlue, color: meltColors.blue },
  { rows: meltRed, color: meltColors.red }
];
const gLines = gB.append("g").attr("clip-path", "url(#clipB)");
meltSets.forEach(set => {
  gLines.append("g").selectAll("path")
    .data(set.rows)
    .join("path")
    .attr("d", lineB)
    .attr("fill", "none")
    .attr("stroke", set.color)
    .attr("stroke-opacity", 0.8)
    .attr("stroke-width", 1.1);
});

gB.append("line").attr("x1", 587).attr("x2", 953).attr("y1", 425.5).attr("y2", 425.5)
  .attr("stroke", "#cfcfcf").attr("stroke-width", 2.5);
gB.append("line").attr("x1", 587).attr("x2", 587).attr("y1", 30).attr("y2", 426)
  .attr("stroke", "#bdbdbd").attr("stroke-width", 2);

const axB = gB.append("g").attr("transform", "translate(586,0)")
  .call(d3.axisLeft(yB).tickValues(meltTicksY).tickFormat(d3.format(",")).tickSize(3).tickPadding(1));
axB.select(".domain").remove();
axB.selectAll("line").attr("stroke", "#888");
axB.selectAll("text").attr("font-size", 8).attr("fill", "#222");

const axBx = gB.append("g").attr("transform", "translate(0,426)")
  .call(d3.axisBottom(xB).tickValues(meltTicksX).tickFormat(d3.format(".1f")).tickSize(2).tickPadding(1));
axBx.select(".domain").remove();
axBx.selectAll("line").attr("stroke", "#aaa");
axBx.selectAll("text").attr("font-size", 6).attr("fill", "#444");

gB.append("text").attr("x", 738).attr("y", 24).attr("text-anchor", "middle")
  .attr("font-family", "DejaVu Sans, Verdana, sans-serif")
  .attr("font-size", 12).attr("font-weight", "bold").attr("fill", "#111")
  .attr("textLength", 160).attr("lengthAdjust", "spacingAndGlyphs")
  .text("Derivative Melt Curves");
gB.append("text").attr("x", 772).attr("y", 443).attr("text-anchor", "middle")
  .attr("font-size", 9.5).attr("fill", "#222").text("Temperature(°C)");
gB.append("text").attr("transform", "translate(532,227) rotate(-90)").attr("text-anchor", "middle")
  .attr("font-size", 8).attr("fill", "#222").text("Fluorescence");
gB.append("text").attr("x", 831).attr("y", 53).attr("text-anchor", "middle")
  .attr("font-family", "Liberation Sans, Arial, sans-serif")
  .attr("font-size", 31).attr("font-weight", "bold").attr("fill", "#000").text("B");

// black frame round the two panels
const frame = svg.append("g").attr("fill", "#000");
frame.append("rect").attr("x", 7).attr("y", 7).attr("width", 946).attr("height", 5.5);
frame.append("rect").attr("x", 7).attr("y", 7).attr("width", 6).attr("height", 439);
frame.append("rect").attr("x", 509).attr("y", 7).attr("width", 5).attr("height", 439);
</script>
</body>
</html>
